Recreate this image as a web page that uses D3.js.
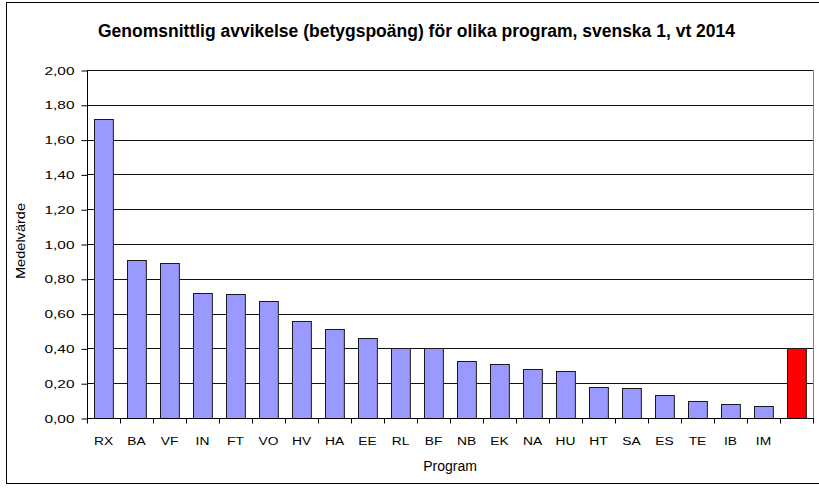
<!DOCTYPE html>
<html>
<head>
<meta charset="utf-8">
<script src="https://cdn.jsdelivr.net/npm/d3@7"></script>
<style>
  body { margin: 0; background: #fff; }
  text { font-family: "Liberation Sans", Arial, sans-serif; fill: #000; }
</style>
</head>
<body>
<div id="chart"></div>
<script>
const programs = ["RX", "BA", "VF", "IN", "FT", "VO", "HV", "HA", "EE", "RL", "BF",
  "NB", "EK", "NA", "HU", "HT", "SA", "ES", "TE", "IB", "IM", ""];
const values = [1.72, 0.91, 0.89, 0.72, 0.71, 0.67, 0.56, 0.51, 0.46, 0.40, 0.40,
  0.33, 0.31, 0.28, 0.27, 0.18, 0.17, 0.13, 0.10, 0.08, 0.07, 0.40];
const yTicks = [0, 0.2, 0.4, 0.6, 0.8, 1.0, 1.2, 1.4, 1.6, 1.8, 2.0];

const data = programs.map((p, i) => ({ program: p, value: values[i], total: i === programs.length - 1 }));

const W = 819, H = 488;
const plot = { left: 87, right: 813, top: 70, bottom: 418 };

const svg = d3.select("#chart").append("svg")
  .attr("width", W).attr("height", H);

// outer chart border
svg.append("rect")
  .attr("x", 6.5).attr("y", 2.5)
  .attr("width", W).attr("height", 481)
  .attr("fill", "none").attr("stroke", "#000").attr("stroke-width", 1);

const x = d3.scaleBand()
  .domain(d3.range(programs.length))
  .range([plot.left, plot.right])
  .paddingInner(0.4286)
  .paddingOuter(0.2143);

const y = d3.scaleLinear().domain([0, 2]).range([plot.bottom, plot.top]);

// gridlines
svg.append("g")
  .selectAll("line")
  .data(yTicks.slice(1))
  .enter()
  .append("line")
  .attr("x1", plot.left).attr("x2", plot.right)
  .attr("y1", d => Math.round(y(d)) + 0.5)
  .attr("y2", d => Math.round(y(d)) + 0.5)
  .attr("stroke", "#111").attr("stroke-width", 1);

// right plot-area edge
svg.append("line")
  .attr("x1", plot.right + 0.5).attr("x2", plot.right + 0.5)
  .attr("y1", plot.top).attr("y2", plot.bottom)
  .attr("stroke", "#808080");

// bars
svg.append("g")
  .selectAll("rect")
  .data(data)
  .enter()
  .append("rect")
  .attr("x", (d, i) => Math.round(x(i)) + 0.5)
  .attr("y", d => Math.round(y(d.value)) + 0.5)
  .attr("width", x.bandwidth())
  .attr("height", d => Math.round(y(0)) - Math.round(y(d.value)))
  .attr("fill", d => d.total ? "#ff0000" : "#9999ff")
  .attr("stroke", "#1a1a1a").attr("stroke-width", 1);

// y axis
const yAxis = d3.axisLeft(y)
  .tickValues(yTicks)
  .tickSize(6)
  .tickFormat(d => d3.format(".2f")(d).replace(".", ","));

const yg = svg.append("g")
  .attr("transform", `translate(${plot.left + 0.5},0.5)`)
  .call(yAxis);
yg.selectAll("path, line").attr("stroke", "#000");
yg.select(".domain").attr("d", `M0,${plot.top}V${plot.bottom}`);
// the labels in the original are drawn wide
yg.selectAll("text")
  .attr("x", null)
  .attr("transform", "translate(-13,0) scale(1.4,1)")
  .style("font-size", "11px")
  .attr("fill", "#000");

// x axis: ticks sit between categories
const xg = svg.append("g")
  .attr("transform", `translate(0,${plot.bottom + 0.5})`);
xg.append("line")
  .attr("x1", plot.left).attr("x2", plot.right + 1)
  .attr("stroke", "#000");
xg.selectAll(".tick")
  .data(d3.range(programs.length + 1))
  .enter()
  .append("line")
  .attr("x1", i => Math.round(plot.left + i * x.step()) + 0.5)
  .attr("x2", i => Math.round(plot.left + i * x.step()) + 0.5)
  .attr("y1", 0).attr("y2", 5)
  .attr("stroke", "#000");
xg.selectAll(".lbl")
  .data(data)
  .enter()
  .append("text")
  .attr("transform", (d, i) => `translate(${x(i) + x.bandwidth() / 2},26.5) scale(1.2,1)`)
  .attr("text-anchor", "middle")
  .style("font-size", "11.5px")
  .text(d => d.program);

// axis titles
svg.append("text")
  .attr("x", 450)
  .attr("y", 470.5)
  .attr("text-anchor", "middle")
  .style("font-size", "14px")
  .text("Program");

svg.append("text")
  .attr("transform", `translate(25,241) rotate(-90) scale(1.12,1)`)
  .attr("text-anchor", "middle")
  .style("font-size", "13px")
  .text("Medelvärde");

svg.append("text")
  .attr("x", 416.5)
  .attr("y", 37)
  .attr("text-anchor", "middle")
  .style("font-size", "17.5px")
  .style("font-weight", "bold")
  .text("Genomsnittlig avvikelse (betygspoäng) för olika program, svenska 1, vt 2014");
</script>
</body>
</html>
